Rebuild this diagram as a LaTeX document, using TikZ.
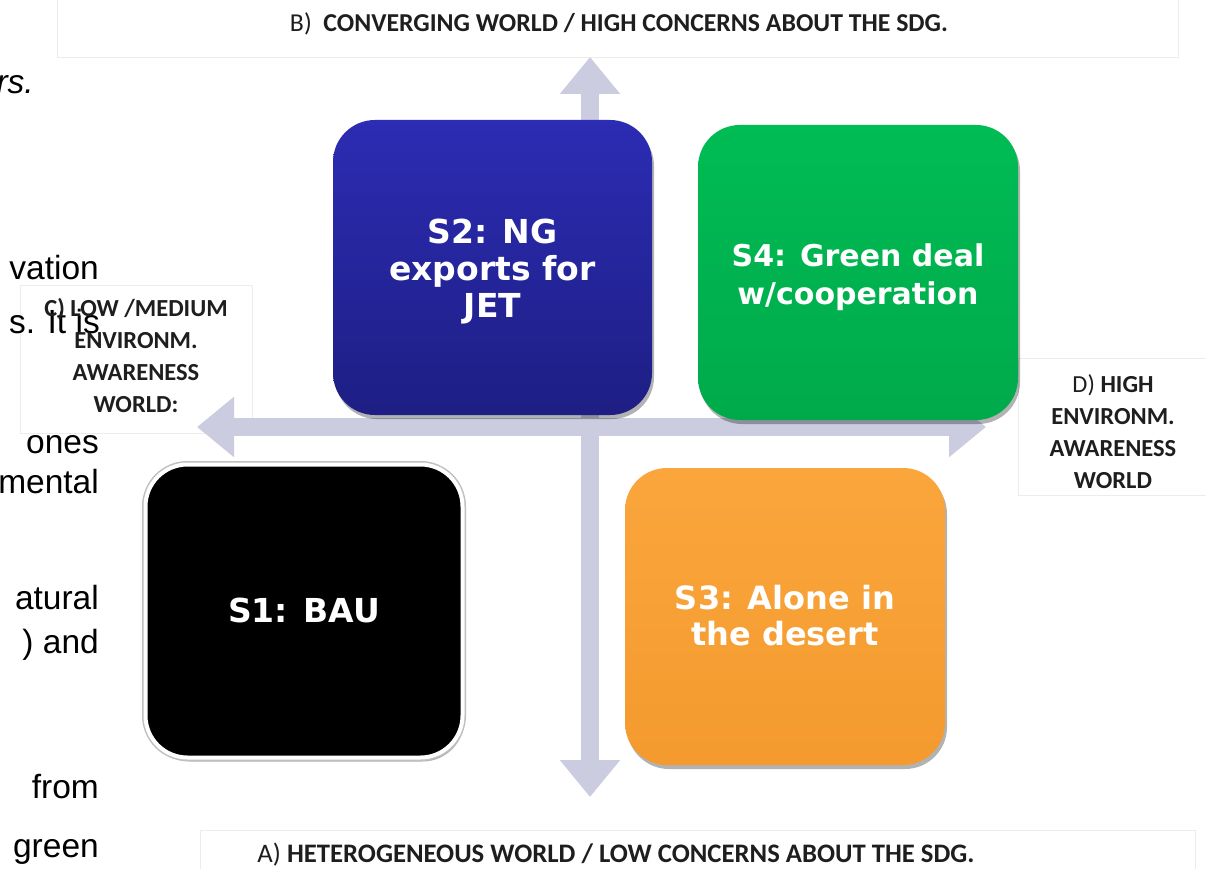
\documentclass[tikz,border=0pt]{standalone}
\usepackage{fontspec}
\usepackage{graphicx}
\setmainfont{Liberation Sans}
\newfontfamily\boxfont{DejaVu Sans}
\newfontfamily\labfont{Carlito}
\usetikzlibrary{arrows.meta,shadows}
\definecolor{axisc}{RGB}{204,204,224}
\definecolor{lblborder}{RGB}{236,236,236}
\definecolor{labtext}{RGB}{30,30,30}
\definecolor{blueTop}{RGB}{44,44,180}
\definecolor{blueBot}{RGB}{30,30,132}
\definecolor{greenTop}{RGB}{0,188,84}
\definecolor{greenBot}{RGB}{0,170,75}
\definecolor{orangeTop}{RGB}{250,166,60}
\definecolor{orangeBot}{RGB}{244,154,46}
\begin{document}
\begin{tikzpicture}[x=1pt,y=-1pt,
  frag/.style={anchor=base east, inner sep=0pt, font=\fontsize{33.5}{38}\selectfont},
  labbox/.style={draw=lblborder, line width=1pt},
  lab/.style={inner sep=0pt, text=labtext},
  sidelab/.style={inner sep=0pt, text=labtext, align=center, font=\labfont\bfseries\fontsize{24.5}{32}\selectfont},
  scen/.style={rounded corners=42pt, inner sep=0pt,
    drop shadow={shadow xshift=2pt, shadow yshift=-4pt, opacity=0.3, fill=black}},
  scentext/.style={inner sep=0pt, align=center, text=white},
  axisline/.style={line width=18pt, draw=axisc,
    {Triangle[width=58pt,length=37pt]}-{Triangle[width=58pt,length=37pt]}}
]
\useasboundingbox (0,0) rectangle (1206,869);
\clip (0,0) rectangle (1206,869);
\fill[white] (0,0) rectangle (1206,869);

% label frames
\draw[labbox] (57,-2) rectangle (1178,58);
\draw[labbox] (200,830) rectangle (1195,875);
\draw[labbox] (20,285) rectangle (252,433);
\draw[labbox] (1018,358) rectangle (1210,495);

% text fragments of the page behind
\node[frag] (f1) at (34,94) {\itshape rs.};
\node[frag] (f2) at (99,279) {vation};
\node[frag] (f3) at (100,333) {s. It is};
\node[frag] (f4) at (99,453) {ones};
\node[frag] (f5) at (99,493) {mental};
\node[frag] (f6) at (99,609) {atural};
\node[frag] (f7) at (99,653) {) and};
\node[frag] (f8) at (99,798) {from};
\node[frag] (f9) at (99,857) {green};

% axes
\coordinate (ytop) at (590,57);
\coordinate (ybot) at (590,797);
\coordinate (xl) at (197,427);
\coordinate (xr) at (986,427);
\draw[axisline] (ybot) -- (ytop);
\draw[axisline] (xl) -- (xr);

% scenario boxes
\node[scen, minimum width=319pt, minimum height=295pt,
  top color=blueTop, bottom color=blueBot] (s2) at (492.5,267.5) {};
\node[scentext, font=\boxfont\bfseries\fontsize{33}{37}\selectfont] (s2t) at (492.5,271.5)
  {S2: NG\\exports for\\JET};
\node[scen, minimum width=320pt, minimum height=295pt,
  top color=greenTop, bottom color=greenBot] (s4) at (858,272.5) {};
\node[scentext, font=\boxfont\bfseries\fontsize{30}{38}\selectfont] (s4t) at (858,277)
  {S4: Green deal\\w/cooperation};
\node[scen, minimum width=317pt, minimum height=293pt, fill=black,
  preaction={draw=black!25, line width=7pt},
  draw=white, line width=4pt] (s1) at (304,611) {};
\node[scentext, font=\boxfont\bfseries\fontsize{33}{38}\selectfont] (s1t) at (304,610)
  {S1: BAU};
\node[scen, minimum width=320pt, minimum height=297pt,
  top color=orangeTop, bottom color=orangeBot] (s3) at (785,616.5) {};
\node[scentext, font=\boxfont\bfseries\fontsize{32}{36}\selectfont] (s3t) at (785,615.5)
  {S3: Alone in\\the desert};

% axis labels
\node[lab] (lb) at (619,24)
  {\resizebox{658pt}{!}{\labfont{B)}\hspace{0.45em}\labfont\bfseries CONVERGING WORLD / HIGH CONCERNS ABOUT THE SDG.}};
\node[lab] (la) at (616,855)
  {\resizebox{717pt}{!}{\labfont{A)} \labfont\bfseries HETEROGENEOUS WORLD / LOW CONCERNS ABOUT THE SDG.}};
\node[sidelab] (lc) at (136,355)
  {C) LOW /MEDIUM\\ENVIRONM.\\AWARENESS\\WORLD:};
\node[sidelab] (ld) at (1113,432)
  {{\mdseries D)} HIGH\\ENVIRONM.\\AWARENESS\\WORLD};
\end{tikzpicture}
\end{document}
